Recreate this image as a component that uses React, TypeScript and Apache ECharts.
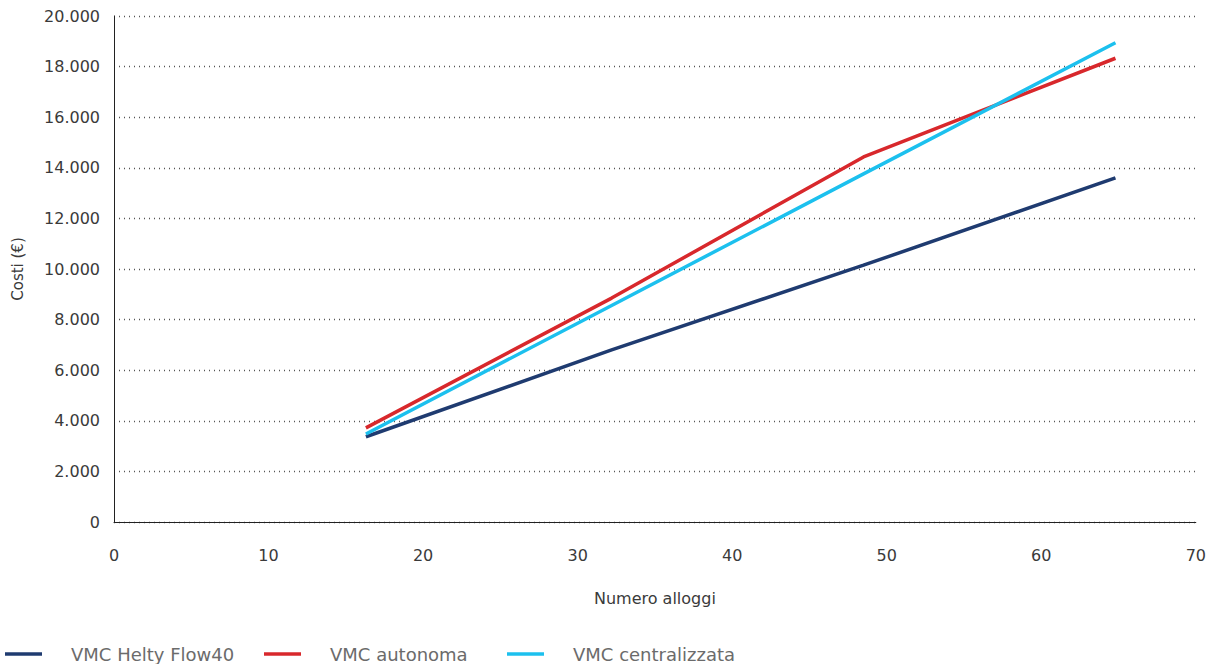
import React, { useEffect, useRef } from "react";
import * as echarts from "echarts";

const xValues = [16.3, 32.2, 48.5, 64.8];
const seriesNames = ["VMC Helty Flow40", "VMC autonoma", "VMC centralizzata"];
const heltyValues = [3370, 6800, 10150, 13600];
const autonomaValues = [3720, 8850, 14430, 18330];
const centralizzataValues = [3480, 8560, 13760, 18940];
const colors = ["#1f3b70", "#d8282c", "#1cc0ee"];

const fmt = (v: number) => {
  const s = String(Math.round(v));
  return s.replace(/\B(?=(\d{3})+(?!\d))/g, ".");
};

const axisFont = "'DejaVu Sans', sans-serif";

export default function App() {
  const ref = useRef<HTMLDivElement>(null);
  useEffect(() => {
    if (!ref.current) return;
    const chart = echarts.init(ref.current, undefined, { renderer: "svg" });
    const allValues = [heltyValues, autonomaValues, centralizzataValues];
    const legendLefts = [5, 264, 507];
    chart.setOption({
      animation: false,
      grid: { left: 114, right: 13, top: 16, bottom: 142, containLabel: false },
      legend: seriesNames.map((n, i) => ({
        data: [n],
        top: 645,
        left: legendLefts[i],
        padding: 0,
        icon: "rect",
        itemWidth: 37,
        itemHeight: 3.5,
        itemGap: 0,
        textStyle: {
          color: "#6b6b6b",
          fontSize: 18,
          fontFamily: axisFont,
          padding: [0, 0, 0, 24],
        },
      })),
      xAxis: {
        type: "value",
        min: 0,
        max: 70,
        interval: 10,
        name: "Numero alloggi",
        nameLocation: "middle",
        nameGap: 68,
        nameTextStyle: { color: "#3a3a3a", fontSize: 16, fontFamily: axisFont },
        axisLine: { show: true, lineStyle: { color: "#222", width: 1 } },
        axisTick: { show: false },
        axisLabel: { color: "#3a3a3a", fontSize: 16, margin: 25, fontFamily: axisFont },
        splitLine: { show: false },
      },
      yAxis: {
        type: "value",
        min: 0,
        max: 20000,
        interval: 2000,
        name: "Costi (€)",
        nameLocation: "middle",
        nameGap: 89,
        nameRotate: 90,
        nameTextStyle: { color: "#3a3a3a", fontSize: 15, fontFamily: axisFont },
        axisLine: { show: true, lineStyle: { color: "#222", width: 1 } },
        axisTick: { show: false },
        axisLabel: {
          color: "#3a3a3a",
          fontSize: 16,
          margin: 14,
          fontFamily: axisFont,
          formatter: (v: number) => fmt(v),
        },
        splitLine: { show: true, lineStyle: { color: "#555", type: [1, 4], width: 1.3 } },
      },
      series: seriesNames.map((n, i) => ({
        name: n,
        type: "line",
        data: xValues.map((x, j) => [x, allValues[i][j]]),
        showSymbol: false,
        symbol: "none",
        lineStyle: { color: colors[i], width: 3.5 },
        itemStyle: { color: colors[i] },
      })),
    });
    return () => chart.dispose();
  }, []);
  return <div ref={ref} style={{ width: 1209, height: 664, position: "absolute", left: 0, top: 0 }} />;
}
